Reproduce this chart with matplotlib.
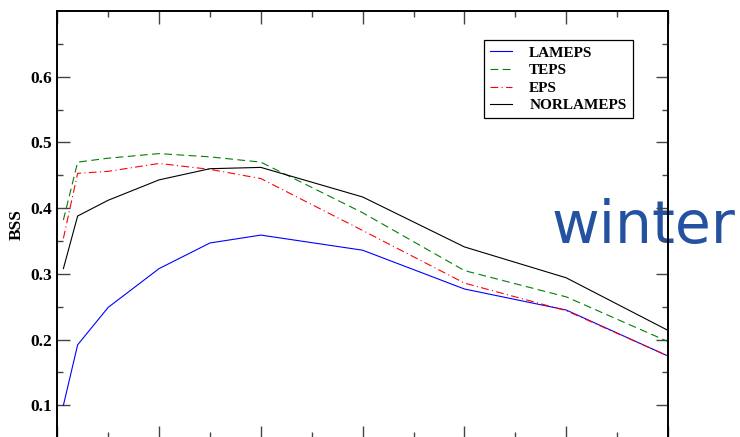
import matplotlib
matplotlib.use("Agg")
import matplotlib.pyplot as plt
import numpy as np

# values
x = [0.6, 2, 5, 10, 15, 20, 30, 40, 50, 60]
lameps = [0.100, 0.192, 0.249, 0.308, 0.347, 0.359, 0.336, 0.277, 0.245, 0.175]
teps = [0.382, 0.470, 0.476, 0.483, 0.478, 0.470, 0.393, 0.305, 0.265, 0.197]
eps = [0.354, 0.453, 0.456, 0.468, 0.459, 0.445, 0.366, 0.286, 0.244, 0.175]
norlameps = [0.308, 0.388, 0.412, 0.443, 0.460, 0.462, 0.417, 0.341, 0.294, 0.214]

y_major = [0.1, 0.2, 0.3, 0.4, 0.5, 0.6]
y_minor = [0.15, 0.25, 0.35, 0.45, 0.55, 0.65]
x_major = [0, 10, 20, 30, 40, 50, 60]
x_minor = [5, 15, 25, 35, 45, 55]

serif = "Liberation Serif"

fig = plt.figure(figsize=(7.4, 4.37), dpi=100)
ax = fig.add_axes([0.0774, -0.0027, 0.8253, 0.9776])
ax.set_facecolor("none")

ax.plot(x, lameps, color="#0000ff", lw=0.8, label="LAMEPS")
ax.plot(x, teps, color="#008000", lw=0.8, linestyle=(0, (7, 4)), label="TEPS")
ax.plot(x, eps, color="#ff0000", lw=0.8, linestyle=(0, (7, 3, 1, 3)), label="EPS")
ax.plot(x, norlameps, color="#000000", lw=0.8, label="NORLAMEPS")

ax.set_xlim(0, 60)
ax.set_ylim(0.05, 0.7)
ax.set_xticks(x_major)
ax.set_xticks(x_minor, minor=True)
ax.set_xticklabels([])
ax.set_yticks(y_major)
ax.set_yticks(y_minor, minor=True)
ax.set_yticklabels(["{:.1f}".format(v) for v in y_major],
                   fontfamily=serif, fontweight="bold", fontsize=12.5)

ax.tick_params(which="both", direction="in", top=True, right=True, color="#444444", width=1.0)
ax.tick_params(which="major", length=9, pad=4)
ax.tick_params(which="minor", length=4.3)
for s in ax.spines.values():
    s.set_linewidth(1.4)

ax.set_ylabel("BSS", fontfamily=serif, fontweight="bold", fontsize=12.5, labelpad=4)

leg = ax.legend(loc="upper left", bbox_to_anchor=(0.699, 0.932), borderaxespad=0,
                prop={"family": serif, "weight": "bold", "size": 11},
                fancybox=False, edgecolor="black", framealpha=1,
                handlelength=1.45, handletextpad=1.1, labelspacing=0.25,
                borderpad=0.4)
leg.get_frame().set_linewidth(0.9)

# label sits behind the right spine, as in the original
fig.text(552 / 740, 1 - 243 / 437, "winter", fontfamily="DejaVu Sans", fontsize=42,
         color="#2552a0", va="baseline", ha="left", zorder=-1)

fig.savefig("out.png", dpi=100)
